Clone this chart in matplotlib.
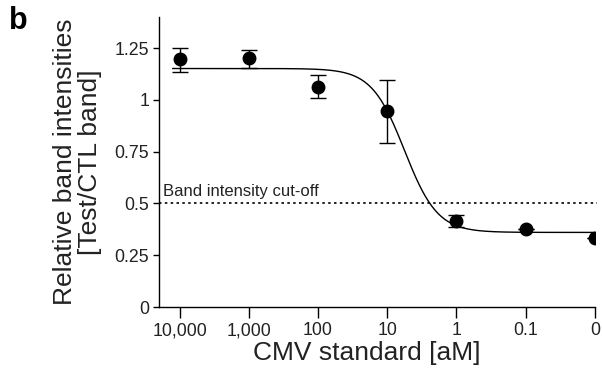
import numpy as np
import matplotlib
matplotlib.use("Agg")
import matplotlib.pyplot as plt

plt.rcParams['font.family'] = ['Liberation Sans', 'DejaVu Sans']

categories = ["10,000", "1,000", "100", "10", "1", "0.1", "0"]
means = [1.195, 1.20, 1.063, 0.945, 0.415, 0.378, 0.335]
err_up = [0.055, 0.04, 0.055, 0.152, 0.03, 0.0, 0.0]
err_dn = [0.06, 0.045, 0.055, 0.152, 0.03, 0.0, 0.0]
cutoff = 0.5

# fitted logistic curve parameters (in category-position units)
fit_top = 1.151
fit_bottom = 0.36
fit_mid = 3.25
fit_slope = 4.2

fig = plt.figure(figsize=(6.02, 3.76), dpi=100)
ax = fig.add_axes([0.264, 0.1835, 0.724, 0.7715])

xpos = np.arange(len(categories))
xs = np.linspace(-0.1, 6, 400)
ys = fit_bottom + (fit_top - fit_bottom) / (1 + np.exp(fit_slope * (xs - fit_mid)))
ax.plot(xs, ys, color='black', lw=1.0)

ax.errorbar(xpos, means, yerr=[err_dn, err_up], fmt='o', color='black',
            ms=9, capsize=6, elinewidth=1.0, capthick=1.0, zorder=3)

ax.plot([-0.3, 6.03], [cutoff, cutoff], ls=(0, (1.5, 2.0)), color='black', lw=1.2, clip_on=False)
ax.text(-0.24, 0.534, "Band intensity cut-off", fontsize=12, ha='left', va='baseline',
        color='#222222')

ax.set_xlim(-0.3, 6)
ax.set_ylim(0, 1.4)
ax.set_yticks([0, 0.25, 0.5, 0.75, 1, 1.25])
ax.set_yticklabels(["0", "0.25", "0.5", "0.75", "1", "1.25"])
ax.set_xticks(xpos)
ax.set_xticklabels(categories)
ax.tick_params(axis='both', labelsize=12.8, width=1.0, colors='black', labelcolor='#222222')
ax.tick_params(axis='x', length=8, pad=3)
ax.tick_params(axis='y', length=4, pad=3)
for s in ['top', 'right']:
    ax.spines[s].set_visible(False)
for s in ['left', 'bottom']:
    ax.spines[s].set_linewidth(1.0)

ax.set_xlabel("CMV standard [aM]", fontsize=19, labelpad=1, color='#222222')
ax.xaxis.label.set_x(0.477)
ax.set_ylabel("Relative band intensities\n[Test/CTL band]", fontsize=19, labelpad=9,
              linespacing=1.05, color='#222222')

fig.text(0.015, 0.985, "b", fontsize=22, fontweight='bold', ha='left', va='top')

fig.savefig("out.png", dpi=100)
